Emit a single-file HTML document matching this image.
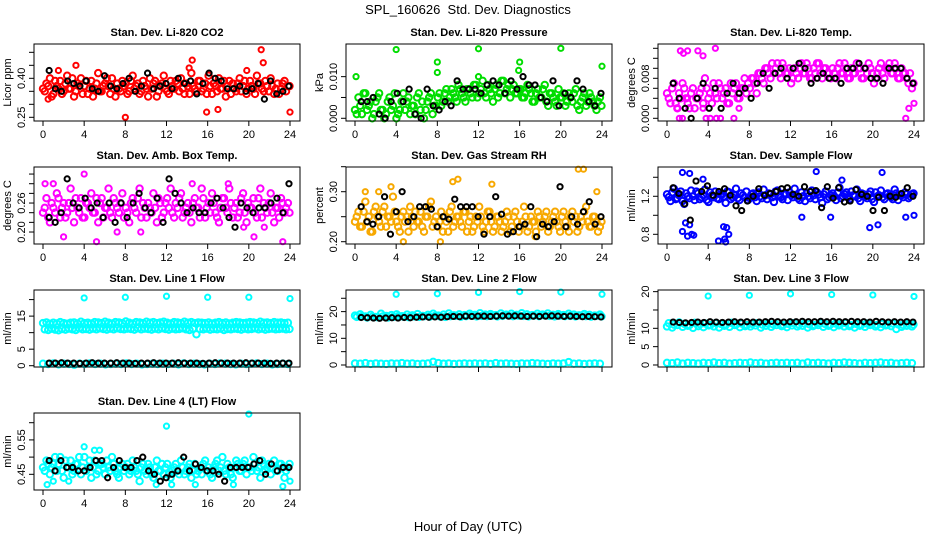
<!DOCTYPE html>
<html><head><meta charset="utf-8"><style>
body{margin:0;background:#fff}
svg text{font-family:"Liberation Sans",Arial,sans-serif;fill:#000}
</style></head><body>
<svg id="chart" width="936" height="540" viewBox="0 0 936 540" xmlns="http://www.w3.org/2000/svg">
<text x="468" y="14" font-size="13" text-anchor="middle">SPL_160626&#160; Std. Dev. Diagnostics</text>
<text x="468" y="531" font-size="13" text-anchor="middle">Hour of Day (UTC)</text>
</svg>
<script>
// ---- data arrays ----
const hourTicks = [0,4,8,12,16,20,24];
const co2Cloud = [0.36,0.38,0.40,0.34,0.37,0.39,0.35,0.41,0.36,0.33,0.38,0.40,0.37,0.34,0.39,0.36,0.42,0.35,0.38,0.37,0.40,0.33,0.36,0.39,0.38,0.35,0.41,0.37,0.34,0.39,0.36,0.40,0.38,0.33,0.37,0.41,0.35,0.39,0.36,0.38,0.40,0.34,0.37,0.42,0.36,0.39,0.35,0.38,0.41,0.34,0.37,0.40,0.36,0.33,0.39,0.38,0.35,0.40,0.37,0.34,0.39,0.36,0.41,0.38,0.35,0.37,0.40,0.34,0.38,0.36,0.39,0.37];
const co2CloudB = [0.35,0.37,0.33,0.39,0.36,0.34,0.38,0.36,0.40,0.35,0.37,0.34,0.39,0.36,0.33,0.38,0.35,0.37,0.40,0.34,0.36,0.38,0.35,0.37,0.34,0.39,0.36,0.38,0.35,0.37,0.33,0.36,0.39,0.35,0.38,0.36,0.34,0.37,0.39,0.35,0.36,0.38,0.34,0.37,0.35,0.39,0.36,0.34,0.37,0.38,0.35,0.36,0.39,0.37,0.34,0.36,0.38,0.35,0.39,0.36,0.37,0.34,0.38,0.36,0.39,0.35,0.37,0.36,0.34,0.38,0.35,0.37];
const co2Out = [[3.2,0.45],[8,0.25],[14.5,0.47],[14.2,0.44],[21.2,0.51],[21.4,0.46],[19.8,0.43],[24,0.27],[1.5,0.43],[0.5,0.32],[15.9,0.27],[17,0.28]];
const co2Black = [0.43,0.36,0.35,0.39,0.38,0.37,0.39,0.36,0.35,0.41,0.37,0.36,0.38,0.40,0.35,0.37,0.42,0.36,0.37,0.38,0.36,0.40,0.38,0.39,0.34,0.38,0.42,0.40,0.39,0.36,0.36,0.37,0.35,0.36,0.38,0.32,0.39,0.34,0.35,0.37];

const presCloud = [0.002,0.005,0.001,0.006,0.003,0.000,0.004,0.006,0.002,0.001,0.005,0.003,0.000,0.002,0.006,0.004,0.001,0.003,0.005,0.002,0.000,0.004,0.006,0.003,0.005,0.003,0.006,0.004,0.007,0.005,0.008,0.006,0.004,0.007,0.005,0.008,0.006,0.009,0.005,0.007,0.004,0.008,0.006,0.009,0.007,0.005,0.008,0.006,0.007,0.005,0.008,0.006,0.004,0.007,0.005,0.008,0.003,0.006,0.004,0.007,0.005,0.003,0.006,0.004,0.007,0.002,0.005,0.003,0.006,0.004,0.002,0.005];
const presCloudB = [0.001,0.003,0.006,0.002,0.004,0.001,0.005,0.002,0.000,0.004,0.002,0.006,0.001,0.004,0.002,0.005,0.003,0.001,0.006,0.004,0.002,0.005,0.001,0.003,0.006,0.004,0.007,0.005,0.006,0.004,0.007,0.005,0.007,0.006,0.008,0.005,0.007,0.006,0.008,0.006,0.007,0.005,0.009,0.006,0.008,0.007,0.006,0.007,0.005,0.006,0.007,0.004,0.006,0.005,0.007,0.004,0.006,0.005,0.003,0.005,0.006,0.004,0.005,0.006,0.003,0.004,0.006,0.004,0.005,0.003,0.004,0.003];
const presOut = [[0.1,0.010],[4,0.0165],[8,0.0135],[8,0.011],[12,0.0167],[16,0.0135],[20,0.0168],[24,0.0125],[15.9,0.0115],[12,0.010]];
const presBlack = [0.004,0.004,0.005,0.001,0.000,0.004,0.006,0.004,0.007,0.001,0.000,0.007,0.003,0.002,0.004,0.003,0.009,0.007,0.007,0.007,0.006,0.008,0.009,0.008,0.006,0.009,0.007,0.010,0.008,0.008,0.005,0.004,0.009,0.003,0.006,0.005,0.009,0.007,0.004,0.003,0.006];

const tempCloud = [0.005,0.003,0.007,0.002,0.004,0.006,0.003,0.005,0.002,0.004,0.006,0.008,0.004,0.003,0.005,0.007,0.004,0.006,0.003,0.005,0.007,0.004,0.006,0.005,0.006,0.008,0.005,0.009,0.007,0.010,0.008,0.009,0.011,0.008,0.010,0.009,0.007,0.010,0.008,0.011,0.009,0.010,0.008,0.009,0.011,0.008,0.010,0.009,0.010,0.008,0.011,0.009,0.010,0.008,0.009,0.011,0.010,0.008,0.009,0.010,0.007,0.009,0.011,0.008,0.010,0.009,0.011,0.008,0.010,0.009,0.007,0.006];
const tempCloudB = [0.004,0.006,0.003,0.005,0.007,0.004,0.002,0.006,0.004,0.005,0.003,0.006,0.005,0.007,0.004,0.006,0.005,0.003,0.007,0.006,0.004,0.006,0.008,0.007,0.008,0.007,0.009,0.008,0.010,0.009,0.011,0.010,0.009,0.011,0.009,0.010,0.008,0.009,0.010,0.009,0.011,0.008,0.010,0.011,0.009,0.010,0.009,0.008,0.009,0.010,0.009,0.011,0.008,0.010,0.009,0.010,0.008,0.010,0.011,0.009,0.008,0.010,0.009,0.010,0.011,0.009,0.010,0.008,0.009,0.008,0.009,0.007];
const tempOut = [[1.3,0.0135],[1.6,0.013],[2,0.0135],[3,0.0135],[3.5,0.0125],[4.7,0.014],[1.2,0],[1.5,0],[3.8,0],[4.2,0],[4.8,0],[5.2,0],[6.5,0],[23.2,0],[23.5,0.002],[24,0.003],[1,0.002],[2,0.004],[3.5,0.002],[7,0.002]];
const tempBlack = [0.007,0.004,0.002,0.000,0.004,0.007,0.002,0.006,0.002,0.005,0.007,0.005,0.006,0.004,0.007,0.009,0.006,0.009,0.010,0.008,0.010,0.011,0.010,0.007,0.008,0.009,0.008,0.008,0.007,0.010,0.010,0.011,0.010,0.008,0.008,0.007,0.010,0.010,0.010,0.008,0.007];

const boxCloud = [0.24,0.27,0.22,0.25,0.28,0.23,0.26,0.24,0.29,0.22,0.25,0.27,0.23,0.26,0.28,0.24,0.22,0.27,0.25,0.29,0.23,0.26,0.24,0.28,0.25,0.22,0.27,0.24,0.29,0.26,0.23,0.25,0.28,0.22,0.26,0.24,0.27,0.29,0.23,0.25,0.28,0.24,0.26,0.22,0.27,0.25,0.29,0.23,0.26,0.28,0.24,0.22,0.27,0.25,0.29,0.23,0.26,0.24,0.28,0.22,0.25,0.27,0.23,0.29,0.26,0.24,0.28,0.22,0.25,0.27,0.24,0.26];
const boxCloudB = [0.25,0.23,0.26,0.24,0.27,0.25,0.23,0.26,0.25,0.27,0.24,0.23,0.26,0.25,0.24,0.27,0.26,0.23,0.25,0.24,0.27,0.25,0.26,0.23,0.24,0.26,0.25,0.27,0.23,0.25,0.26,0.24,0.25,0.27,0.23,0.26,0.25,0.24,0.26,0.27,0.23,0.25,0.24,0.26,0.25,0.23,0.27,0.25,0.24,0.26,0.23,0.25,0.27,0.24,0.26,0.25,0.23,0.27,0.24,0.26,0.25,0.24,0.27,0.23,0.25,0.26,0.24,0.25,0.23,0.26,0.25,0.24];
const boxOut = [[0.2,0.30],[1,0.30],[2,0.19],[4,0.32],[5.2,0.18],[7.2,0.20],[9.5,0.20],[20.5,0.19],[21.5,0.21],[23.3,0.18],[18,0.30],[14.5,0.30],[19.5,0.21]];
const boxBlack = [0.23,0.22,0.24,0.31,0.26,0.25,0.27,0.25,0.26,0.23,0.26,0.22,0.26,0.23,0.26,0.28,0.25,0.24,0.27,0.22,0.31,0.28,0.26,0.24,0.25,0.24,0.24,0.26,0.27,0.25,0.23,0.21,0.26,0.25,0.24,0.25,0.25,0.26,0.27,0.24,0.30];

const rhCloud = [0.24,0.26,0.23,0.28,0.25,0.22,0.27,0.24,0.26,0.23,0.25,0.29,0.24,0.22,0.26,0.25,0.27,0.23,0.24,0.26,0.22,0.25,0.28,0.24,0.23,0.26,0.25,0.22,0.27,0.24,0.25,0.23,0.26,0.24,0.22,0.25,0.27,0.23,0.24,0.26,0.22,0.25,0.24,0.23,0.26,0.22,0.25,0.24,0.23,0.27,0.22,0.25,0.24,0.26,0.23,0.25,0.22,0.24,0.26,0.23,0.25,0.24,0.22,0.26,0.25,0.23,0.24,0.27,0.23,0.25,0.24,0.23];
const rhCloudB = [0.25,0.23,0.26,0.24,0.22,0.26,0.25,0.23,0.27,0.25,0.24,0.26,0.23,0.25,0.24,0.22,0.25,0.26,0.24,0.23,0.25,0.27,0.23,0.25,0.24,0.22,0.24,0.26,0.23,0.25,0.24,0.26,0.22,0.25,0.23,0.24,0.25,0.22,0.26,0.24,0.23,0.25,0.22,0.24,0.25,0.23,0.26,0.22,0.24,0.25,0.23,0.24,0.22,0.25,0.24,0.26,0.23,0.25,0.24,0.22,0.26,0.23,0.25,0.24,0.22,0.25,0.26,0.24,0.23,0.25,0.22,0.24];
const rhOut = [[1,0.30],[2.3,0.30],[4.7,0.20],[9.5,0.32],[10,0.325],[13.3,0.315],[21.7,0.345],[22.2,0.345],[8.3,0.20],[17.5,0.21],[23.5,0.30],[3.5,0.31]];
const rhBlack = [0.27,0.24,0.235,0.25,0.29,0.215,0.26,0.30,0.24,0.25,0.27,0.27,0.265,0.23,0.25,0.245,0.285,0.27,0.27,0.27,0.25,0.215,0.25,0.29,0.255,0.215,0.22,0.23,0.235,0.27,0.21,0.235,0.23,0.24,0.31,0.23,0.25,0.235,0.26,0.28,0.235,0.25];

const flowCloud = [1.22,1.15,1.28,1.18,1.25,1.12,1.20,1.26,1.16,1.23,1.19,1.27,1.14,1.21,1.25,1.17,1.22,1.13,1.24,1.19,1.28,1.16,1.21,1.25,1.18,1.23,1.15,1.20,1.27,1.17,1.22,1.14,1.26,1.19,1.23,1.16,1.21,1.28,1.18,1.24,1.15,1.20,1.26,1.17,1.22,1.13,1.25,1.19,1.23,1.16,1.29,1.20,1.24,1.17,1.21,1.27,1.15,1.22,1.18,1.25,1.14,1.20,1.26,1.17,1.23,1.19,1.27,1.16,1.21,1.24,1.18,1.22];
const flowCloudB = [1.19,1.24,1.17,1.21,1.15,1.23,1.18,1.20,1.25,1.17,1.21,1.16,1.24,1.19,1.18,1.22,1.20,1.25,1.17,1.21,1.18,1.23,1.19,1.16,1.22,1.19,1.24,1.18,1.21,1.23,1.19,1.25,1.20,1.17,1.22,1.24,1.19,1.21,1.16,1.20,1.23,1.18,1.21,1.24,1.19,1.22,1.17,1.21,1.20,1.24,1.18,1.22,1.19,1.25,1.20,1.18,1.23,1.20,1.22,1.17,1.24,1.21,1.19,1.22,1.20,1.17,1.23,1.21,1.19,1.22,1.20,1.23];
const flowOut = [[1.5,1.45],[2.2,1.44],[1.5,0.83],[2,0.78],[2.4,0.80],[2.6,0.79],[1.8,0.92],[2.2,0.90],[5,0.73],[5.5,0.88],[5.8,0.87],[5.6,0.75],[5.7,0.72],[6,0.80],[14.5,1.46],[19.7,0.87],[20.5,0.90],[20.9,1.45],[23.2,0.98],[24,1.0],[13.1,0.98],[15.9,0.98],[17,1.37],[3.5,1.38]];
const flowBlack = [1.29,1.23,1.12,0.95,1.36,1.25,1.31,1.21,1.25,1.28,1.21,1.10,1.05,1.15,1.20,1.28,1.21,1.23,1.25,1.28,1.29,1.22,1.20,1.30,1.25,1.26,1.08,1.30,1.18,1.29,1.14,1.15,1.27,1.22,1.20,1.05,1.19,1.05,1.20,1.19,1.23,1.29,1.20];

const line1Upper = [12.9,13.1,12.7,13.0,12.8,13.2,12.9,12.7,13.0,13.1,12.8,13.3,12.9,13.0,12.8,13.2,13.1,12.9,13.3,13.0,12.8,13.2,13.1,12.9,13.4,13.0,12.8,13.2,13.1,12.9,13.3,13.0,13.2,12.9,13.1,13.3,13.0,12.8,13.2,13.1,12.9,13.3,13.0,13.2,12.9,13.1,13.0,12.9,13.1,12.8,13.0,13.2,12.9,13.1,12.8,13.0,13.2,13.1,12.9,13.0,13.2,13.1,12.9,13.3,13.0,13.1,12.9,13.2,13.0,13.1,12.9,13.0];
const line1Lower = [11.0,10.8,11.2,10.9,10.7,11.1,10.9,11.2,11.0,10.8,11.3,11.0,11.1,10.9,11.2,11.0,11.3,11.1,10.9,11.2,11.0,11.3,11.1,11.0,11.2,11.1,10.9,11.3,11.0,11.2,11.1,10.9,11.2,11.0,11.3,11.1,10.9,11.2,11.0,11.1,11.3,11.0,10.8,11.2,9.5,11.1,11.0,11.2,10.9,11.1,11.0,11.2,10.8,11.1,11.0,11.2,11.1,10.9,11.2,11.0,11.1,11.3,11.0,11.2,10.9,11.1,11.2,11.0,11.1,11.2,11.0,11.1];
const line1Base = [0.6,0.5,0.7,0.4,0.6,0.5,0.3,0.6,0.5,0.7,0.5,0.6,0.4,0.5,0.6,0.5,0.7,0.5,0.6,0.4,0.5,0.6,0.5,0.6,0.5,0.6,0.4,0.7,0.5,0.6,0.5,0.4,0.6,0.5,0.7,0.6,0.5,0.4,0.6,0.5,0.6,0.7,0.5,0.6,0.4,0.5,0.6,0.5];
const line1Out = [[4,20.5],[8,20.7],[12,21],[16,20.7],[20,20.7],[24,20.3]];
const line1Black = [0.8,0.8,0.9,0.8,0.8,0.7,0.8,0.9,0.8,0.8,0.8,0.9,0.8,0.8,0.7,0.8,0.8,0.9,0.8,0.8,0.8,0.9,0.8,0.8,0.8,0.7,0.8,0.9,0.8,0.8,0.8,0.8,0.9,0.8,0.8,0.8,0.7,0.8,0.8,0.8];

const line2Band = [18.5,19.0,18.2,18.8,18.0,19.2,18.4,18.7,19.0,18.3,18.9,18.6,19.1,18.4,18.8,19.2,18.5,18.9,19.3,18.6,19.0,18.7,19.2,18.8,19.4,18.9,19.1,18.7,19.3,18.9,19.2,18.8,19.4,19.0,18.7,19.2,18.9,19.3,18.8,19.1,18.7,19.2,18.9,18.6,19.1,18.8,18.5,18.9];
const line2BandB = [18.0,18.3,17.8,18.1,17.9,18.2,17.8,18.0,18.3,18.1,17.9,18.2,18.0,18.3,18.1,18.4,18.2,18.0,18.3,18.4,18.1,18.3,18.5,18.2,18.4,18.3,18.5,18.2,18.4,18.6,18.3,18.5,18.4,18.2,18.5,18.3,18.6,18.4,18.2,18.5,18.3,18.4,18.2,18.5,18.3,18.1,18.4,18.2];
const line2Base = [0.6,0.5,0.7,0.4,0.6,0.5,0.4,0.6,0.5,0.7,0.5,0.6,0.4,0.5,0.6,1.2,0.7,0.5,0.6,0.4,0.5,0.6,0.5,0.6,0.5,0.6,0.4,0.7,0.5,0.6,0.5,0.4,0.6,0.5,0.7,0.6,0.5,0.4,0.6,0.5,0.6,1.1,0.5,0.6,0.4,0.5,0.6,0.5];
const line2Out = [[4,26.5],[8,26.7],[12,27.2],[16,27.5],[20,27.3],[24,26.5]];
const line2Black = [17.8,17.7,17.6,17.5,17.6,17.7,17.6,17.8,17.7,17.9,18.0,17.9,18.0,17.9,18.1,18.2,18.1,18.3,18.2,18.3,18.3,18.2,18.3,18.4,18.3,18.4,18.3,18.2,18.3,18.2,18.3,18.4,18.3,18.2,18.3,18.2,18.1,18.2,18.1,18.0];

const line3Band = [10.5,10.2,10.9,10.4,10.7,10.1,10.6,10.3,10.8,10.5,10.2,10.7,10.4,10.9,10.3,10.6,10.5,10.8,10.2,10.7,10.4,10.9,10.6,10.3,10.8,10.5,10.7,10.2,10.6,10.9,10.4,10.7,10.3,10.8,10.5,10.6,10.2,10.7,10.4,10.9,10.5,10.3,10.8,10.6,9.8,10.4,10.7,10.5];
const line3BandB = [11.4,11.0,11.6,11.2,10.9,11.5,11.1,11.3,10.9,11.4,11.2,11.0,11.5,11.1,11.3,10.9,11.2,11.4,11.0,11.3,11.1,11.5,10.9,11.2,11.4,11.0,11.3,11.1,10.9,11.4,11.2,11.0,11.3,11.1,11.4,10.9,11.2,11.0,11.3,11.1,10.9,11.2,11.0,11.3,11.1,10.9,11.2,11.0];
const line3Base = [0.6,0.5,0.7,0.4,0.6,0.5,0.4,0.6,0.5,0.7,0.5,0.6,0.4,0.5,0.6,0.5,0.7,0.5,0.6,0.4,0.5,0.6,0.5,0.6,0.5,0.6,0.4,0.7,0.5,0.6,0.5,0.4,0.6,0.5,0.7,0.6,0.5,0.4,0.6,0.5,0.6,0.7,0.5,0.6,0.4,0.5,0.6,0.5];
const line3Out = [[4,18.8],[8,19.0],[12,19.4],[16,19.2],[20,19.1],[24,18.7]];
const line3Black = [11.7,11.6,11.5,11.6,11.7,11.6,11.8,11.7,11.6,11.7,11.8,11.7,11.8,11.7,11.7,11.8,11.9,11.8,11.7,11.8,11.8,11.9,11.8,11.8,11.9,11.8,11.9,11.8,11.8,11.9,11.8,11.8,11.7,11.9,11.8,11.7,11.8,11.7,11.8,11.7];

const lt4Cloud = [0.47,0.49,0.45,0.48,0.46,0.50,0.44,0.47,0.49,0.46,0.48,0.45,0.50,0.47,0.44,0.49,0.46,0.48,0.45,0.47,0.50,0.46,0.44,0.48,0.47,0.45,0.49,0.46,0.43,0.48,0.45,0.47,0.44,0.49,0.46,0.45,0.48,0.44,0.47,0.46,0.49,0.45,0.47,0.44,0.48,0.46,0.45,0.49,0.47,0.44,0.48,0.46,0.50,0.45,0.47,0.44,0.49,0.46,0.48,0.45,0.47,0.50,0.46,0.44,0.48,0.47,0.45,0.49,0.46,0.48,0.44,0.47];
const lt4CloudB = [0.46,0.48,0.47,0.50,0.48,0.46,0.49,0.47,0.45,0.48,0.50,0.47,0.46,0.49,0.47,0.45,0.48,0.47,0.49,0.46,0.48,0.45,0.47,0.46,0.48,0.46,0.47,0.45,0.47,0.46,0.48,0.45,0.47,0.46,0.48,0.47,0.45,0.46,0.48,0.45,0.47,0.46,0.48,0.46,0.45,0.47,0.48,0.46,0.45,0.47,0.49,0.47,0.46,0.48,0.45,0.47,0.48,0.46,0.49,0.47,0.46,0.48,0.47,0.49,0.46,0.48,0.47,0.46,0.48,0.47,0.46,0.48];
const lt4Out = [[4,0.53],[5,0.52],[5.5,0.52],[12,0.59],[20,0.625],[0.4,0.42],[1,0.43],[2.5,0.43],[11,0.42],[12.5,0.42],[14.8,0.42],[18.5,0.42],[23.3,0.415],[24,0.43]];
const lt4Black = [0.49,0.46,0.49,0.47,0.47,0.46,0.46,0.47,0.49,0.49,0.44,0.47,0.49,0.47,0.47,0.49,0.50,0.46,0.45,0.43,0.44,0.45,0.46,0.50,0.46,0.48,0.47,0.46,0.46,0.45,0.43,0.47,0.47,0.47,0.47,0.48,0.49,0.45,0.48,0.46,0.47,0.47];

// ---- drawing ----
const NS = 'http://www.w3.org/2000/svg';
const svg = document.getElementById('chart');
function mk(tag, attrs, parent){
  const e = document.createElementNS(NS, tag);
  for (const k in attrs) e.setAttribute(k, attrs[k]);
  (parent||svg).appendChild(e); return e;
}
function panel(p){
  const L = 34 + 312*p.col, R = 300 + 312*p.col;
  const T = 44 + 123*p.row, B = T + 77;
  const x0 = 43 + 312*p.col, x24 = 290 + 312*p.col;
  const xs = h => x0 + (x24 - x0) * h / 24;
  const ys = v => B - (v - p.yMin) / (p.yMax - p.yMin) * (B - T);
  const g = mk('g', {});
  
  
  const title = mk('text', {x:(L+R)/2, y:T-8, 'font-size':11, 'font-weight':'bold', 'text-anchor':'middle'}, g);
  title.textContent = p.title;
  
  
  const yl = mk('text', {x:0, y:0, 'font-size':11, 'text-anchor':'middle', transform:`translate(${L-23},${(T+B)/2}) rotate(-90)`}, g);
  yl.textContent = p.ylab;
  
  
  hourTicks.forEach(h => {
    const tk = mk('line', {x1:xs(h), x2:xs(h), y1:B, y2:B+5, stroke:'#000'}, g);
    
    
    if (p.xLabels) {
      const t = mk('text', {x:xs(h), y:B+17, 'font-size':11, 'text-anchor':'middle'}, g);
      t.textContent = h;
      
      
    }
  });
  p.yTicks.forEach(v => {
    const tk = mk('line', {x1:L-5, x2:L, y1:ys(v), y2:ys(v), stroke:'#000'}, g);
    
    
  });
  p.yLabels.forEach(v => {
    const t = mk('text', {x:0, y:0, 'font-size':11, 'text-anchor':'middle', transform:`translate(${L-9},${ys(v)}) rotate(-90)`}, g);
    t.textContent = p.fmt(v);
    
    
  });
  const pts = mk('g', {fill:'none', 'stroke-width':2}, g);
  
  
  function dot(h, v, col, r){
    const c = mk('circle', {cx:xs(h), cy:ys(v), r:r, stroke:col}, pts);
    
    
  }
  p.clouds.forEach(arr => {
    const t0 = arr.t0 === undefined ? 0 : arr.t0, t1 = arr.t1 === undefined ? 23.8 : arr.t1;
    arr.v.forEach((v, i) => dot(t0 + (t1 - t0) * i / (arr.v.length - 1), v, p.color, 3.2));
  });
  p.out.forEach(o => dot(o[0], o[1], p.color, 2.6));
  p.black.forEach((v, i) => dot(0.6 + 23.3 * i / (p.black.length - 1), v, '#000', 2.6));
  const box = mk('rect', {x:L, y:T, width:R-L, height:B-T, fill:'none', stroke:'#000', 'stroke-width':1}, g);
  
  
}
const f2 = v => v.toFixed(2), f3 = v => v.toFixed(3), f1 = v => v.toFixed(1), f0 = v => String(v);
const B2 = {t0:0.17, t1:23.95};
panel({name:'co2', col:0,row:0,title:'Stan. Dev. Li-820 CO2', ylab:'Licor ppm', yMin:0.2358,yMax:0.532, yTicks:[0.25,0.30,0.35,0.40,0.45,0.50], yLabels:[0.25,0.40], fmt:f2, xLabels:true, color:'#ff0000', clouds:[{v:co2Cloud},{v:co2CloudB,...B2}], out:co2Out, black:co2Black});
panel({name:'pressure', col:1,row:0,title:'Stan. Dev. Li-820 Pressure', ylab:'kPa', yMin:-0.00065,yMax:0.01784, yTicks:[0,0.005,0.010], yLabels:[0,0.010], fmt:f3, xLabels:true, color:'#00dd00', clouds:[{v:presCloud},{v:presCloudB,...B2}], out:presOut, black:presBlack});
panel({name:'li820-temp', col:2,row:0,title:'Stan. Dev. Li-820 Temp.', ylab:'degrees C', yMin:-0.00054,yMax:0.01486, yTicks:[0,0.002,0.004,0.006,0.008,0.010,0.012,0.014], yLabels:[0,0.008], fmt:f3, xLabels:true, color:'#ff00ff', clouds:[{v:tempCloud},{v:tempCloudB,...B2}], out:tempOut, black:tempBlack});
panel({name:'amb-box-temp', col:0,row:1,title:'Stan. Dev. Amb. Box Temp.', ylab:'degrees C', yMin:0.1752,yMax:0.3346, yTicks:[0.20,0.22,0.24,0.26,0.28,0.30,0.32], yLabels:[0.20,0.26], fmt:f2, xLabels:true, color:'#ff00ff', clouds:[{v:boxCloud},{v:boxCloudB,...B2}], out:boxOut, black:boxBlack});
panel({name:'gas-rh', col:1,row:1,title:'Stan. Dev. Gas Stream RH', ylab:'percent', yMin:0.1954,yMax:0.3494, yTicks:[0.20,0.25,0.30,0.35], yLabels:[0.20,0.30], fmt:f2, xLabels:true, color:'#f7a800', clouds:[{v:rhCloud},{v:rhCloudB,...B2}], out:rhOut, black:rhBlack});
panel({name:'sample-flow', col:2,row:1,title:'Stan. Dev. Sample Flow', ylab:'ml/min', yMin:0.698,yMax:1.508, yTicks:[0.8,1.0,1.2,1.4], yLabels:[0.8,1.2], fmt:f1, xLabels:true, color:'#0000ff', clouds:[{v:flowCloud},{v:flowCloudB,...B2}], out:flowOut, black:flowBlack});
panel({name:'line1-flow', col:0,row:2,title:'Stan. Dev. Line 1 Flow', ylab:'ml/min', yMin:-0.39,yMax:22.9, yTicks:[0,5,10,15,20], yLabels:[0,5,15], fmt:f0, xLabels:false, color:'#00ffff', clouds:[{v:line1Upper},{v:line1Lower,...B2},{v:line1Base}], out:line1Out, black:line1Black});
panel({name:'line2-flow', col:1,row:2,title:'Stan. Dev. Line 2 Flow', ylab:'ml/min', yMin:-0.75,yMax:28.1, yTicks:[0,5,10,15,20,25], yLabels:[0,10,20], fmt:f0, xLabels:false, color:'#00ffff', clouds:[{v:line2Band},{v:line2BandB,...B2},{v:line2Base}], out:line2Out, black:line2Black});
panel({name:'line3-flow', col:2,row:2,title:'Stan. Dev. Line 3 Flow', ylab:'ml/min', yMin:-0.55,yMax:20.45, yTicks:[0,5,10,15,20], yLabels:[0,5,10,20], fmt:f0, xLabels:false, color:'#00ffff', clouds:[{v:line3Band},{v:line3BandB,...B2},{v:line3Base}], out:line3Out, black:line3Black});
panel({name:'line4-flow', col:0,row:3,title:'Stan. Dev. Line 4 (LT) Flow', ylab:'ml/min', yMin:0.4044,yMax:0.6282, yTicks:[0.45,0.50,0.55,0.60], yLabels:[0.45,0.55], fmt:f2, xLabels:true, color:'#00ffff', clouds:[{v:lt4Cloud},{v:lt4CloudB,...B2}], out:lt4Out, black:lt4Black});
</script>
</body></html>
